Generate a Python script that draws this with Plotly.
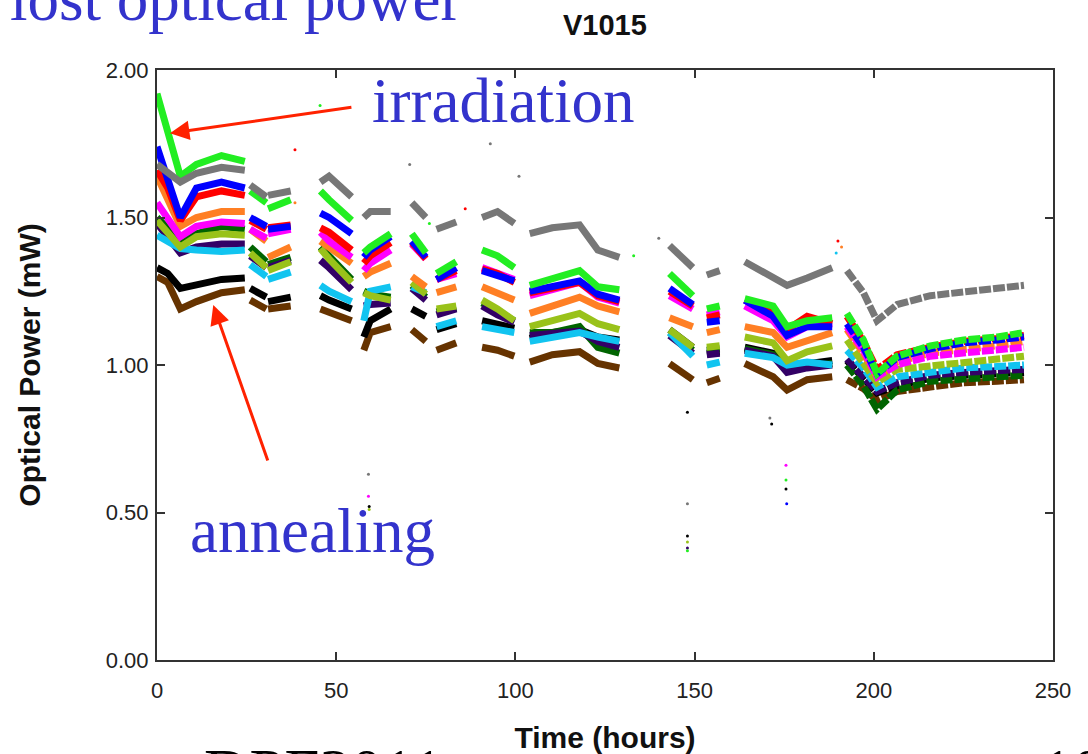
import plotly.graph_objects as go

# ---- time knots (hours) of each recorded segment ----
SEG_TIMES = [
    [0, 3, 6.5, 11, 18, 24.5],
    [26, 30.5],
    [31, 37.3],
    [45.6, 48, 54.3],
    [57.7, 59.5, 65.2],
    [71.1, 75.0],
    [78, 83.5],
    [90.7, 95, 99.7],
    [104, 110.3, 117.9, 123, 129],
    [143, 149.5],
    [153.4, 157],
    [164, 171.9, 175.8, 181.4, 188.4],
    [192.5, 197.1, 200.9, 206.5, 215.8, 225.1, 234.5, 241.9],
]

# ---- optical power (mW) per channel, one list per segment ----
brown = [[1.30, 1.28, 1.19, 1.215, 1.245, 1.255], [1.22, 1.19], [1.19, 1.20], [1.19, 1.18, 1.15],
         [1.05, 1.11, 1.13], [1.12, 1.08], [1.05, 1.075], [1.06, 1.05, 1.03],
         [1.01, 1.035, 1.045, 1.005, 0.99], [1.005, 0.95], [0.94, 0.955],
         [1.005, 0.96, 0.915, 0.95, 0.96], [0.95, 0.92, 0.88, 0.91, 0.925, 0.94, 0.945, 0.95]]
black = [[1.33, 1.31, 1.26, 1.27, 1.29, 1.295], [1.26, 1.23], [1.215, 1.23], [1.235, 1.22, 1.19],
         [1.095, 1.15, 1.19], [1.19, 1.165], [1.12, 1.14], [1.15, 1.14, 1.125],
         [1.09, 1.11, 1.12, 1.095, 1.085], [1.12, 1.06], [1.04, 1.045],
         [1.06, 1.04, 0.995, 1.005, 1.015], [1.015, 0.955, 0.905, 0.93, 0.955, 0.965, 0.97, 0.975]]
darkgreen = [[1.50, 1.46, 1.42, 1.445, 1.47, 1.46], [1.40, 1.35], [1.34, 1.365], [1.40, 1.37, 1.29],
             [1.25, 1.24, 1.23], [1.27, 1.23], [1.18, 1.195], [1.21, 1.18, 1.15],
             [1.11, 1.11, 1.13, 1.06, 1.04], [1.11, 1.05], [1.05, 1.055],
             [1.055, 1.035, 0.98, 0.995, 1.005], [1.00, 0.93, 0.85, 0.915, 0.945, 0.955, 0.96, 0.965]]
indigo = [[1.48, 1.43, 1.38, 1.40, 1.41, 1.41], [1.37, 1.33], [1.33, 1.355], [1.355, 1.33, 1.255],
          [1.20, 1.205, 1.21], [1.26, 1.22], [1.17, 1.19], [1.20, 1.17, 1.145],
          [1.10, 1.105, 1.115, 1.08, 1.06], [1.10, 1.04], [1.035, 1.04],
          [1.05, 1.03, 0.975, 0.99, 1.00], [1.02, 0.96, 0.91, 0.94, 0.965, 0.975, 0.98, 0.985]]
cyan = [[1.44, 1.42, 1.395, 1.39, 1.385, 1.39], [1.34, 1.30], [1.29, 1.315], [1.27, 1.25, 1.215],
        [1.15, 1.25, 1.265], [1.265, 1.245], [1.13, 1.15], [1.13, 1.12, 1.11],
        [1.08, 1.095, 1.11, 1.095, 1.08], [1.11, 1.03], [1.00, 1.01],
        [1.04, 1.025, 1.00, 1.01, 1.00], [1.05, 0.99, 0.925, 0.96, 0.975, 0.99, 0.995, 1.00]]
yellowgreen = [[1.49, 1.45, 1.40, 1.435, 1.445, 1.44], [1.38, 1.33], [1.32, 1.35], [1.395, 1.36, 1.28],
               [1.245, 1.235, 1.22], [1.28, 1.24], [1.19, 1.20], [1.22, 1.19, 1.15],
               [1.13, 1.15, 1.175, 1.14, 1.12], [1.12, 1.06], [1.06, 1.065],
               [1.095, 1.075, 1.015, 1.045, 1.065], [1.085, 1.01, 0.94, 0.985, 0.995, 1.01, 1.02, 1.03]]
orange = [[1.64, 1.56, 1.47, 1.50, 1.52, 1.52], [1.46, 1.42], [1.365, 1.40], [1.42, 1.40, 1.345],
          [1.30, 1.315, 1.345], [1.30, 1.265], [1.245, 1.265], [1.265, 1.245, 1.22],
          [1.175, 1.20, 1.23, 1.20, 1.18], [1.16, 1.13], [1.11, 1.12],
          [1.13, 1.11, 1.06, 1.08, 1.11], [1.12, 1.04, 0.96, 1.01, 1.04, 1.05, 1.065, 1.08]]
magenta = [[1.55, 1.50, 1.435, 1.47, 1.485, 1.48], [1.46, 1.43], [1.445, 1.46], [1.45, 1.42, 1.365],
           [1.32, 1.345, 1.39], [1.41, 1.36], [1.29, 1.31], [1.33, 1.31, 1.29],
           [1.235, 1.255, 1.28, 1.23, 1.21], [1.235, 1.19], [1.17, 1.18],
           [1.20, 1.15, 1.095, 1.13, 1.14], [1.13, 1.05, 0.96, 1.00, 1.03, 1.04, 1.05, 1.06]]
red = [[1.66, 1.60, 1.49, 1.57, 1.59, 1.575], [1.49, 1.46], [1.465, 1.475], [1.465, 1.45, 1.39],
       [1.345, 1.37, 1.415], [1.415, 1.36], [1.29, 1.32], [1.325, 1.31, 1.28],
       [1.245, 1.26, 1.28, 1.235, 1.215], [1.25, 1.20], [1.16, 1.17],
       [1.22, 1.175, 1.12, 1.165, 1.14], [1.165, 1.08, 0.985, 1.035, 1.06, 1.08, 1.09, 1.10]]
blue = [[1.74, 1.63, 1.50, 1.60, 1.62, 1.60], [1.50, 1.47], [1.46, 1.47], [1.515, 1.50, 1.445],
        [1.365, 1.39, 1.435], [1.42, 1.365], [1.29, 1.33], [1.32, 1.305, 1.285],
        [1.25, 1.265, 1.285, 1.24, 1.22], [1.26, 1.205], [1.145, 1.15],
        [1.22, 1.165, 1.10, 1.13, 1.13], [1.14, 1.06, 0.97, 1.025, 1.055, 1.075, 1.085, 1.095]]
green = [[1.92, 1.79, 1.64, 1.68, 1.71, 1.69], [1.59, 1.55], [1.53, 1.56], [1.59, 1.56, 1.49],
         [1.38, 1.40, 1.445], [1.445, 1.38], [1.31, 1.35], [1.39, 1.37, 1.33],
         [1.27, 1.295, 1.32, 1.265, 1.255], [1.31, 1.235], [1.19, 1.20],
         [1.225, 1.20, 1.13, 1.15, 1.16], [1.175, 1.085, 0.97, 1.03, 1.065, 1.085, 1.095, 1.11]]
gray = [[1.68, 1.65, 1.62, 1.65, 1.67, 1.66], [1.61, 1.57], [1.575, 1.59], [1.62, 1.64, 1.57],
        [1.50, 1.52, 1.52], [1.55, 1.50], [1.46, 1.485], [1.50, 1.52, 1.48],
        [1.445, 1.465, 1.475, 1.39, 1.365], [1.405, 1.33], [1.305, 1.32],
        [1.35, 1.30, 1.27, 1.295, 1.33], [1.32, 1.245, 1.15, 1.205, 1.235, 1.25, 1.26, 1.27]]

SERIES = [
    ("brown", brown, "#663300"),
    ("black", black, "#000000"),
    ("darkgreen", darkgreen, "#006400"),
    ("indigo", indigo, "#330066"),
    ("cyan", cyan, "#11c4f0"),
    ("yellowgreen", yellowgreen, "#99c21a"),
    ("orange", orange, "#ff7f24"),
    ("magenta", magenta, "#ff00ff"),
    ("red", red, "#ff0000"),
    ("blue", blue, "#0000ff"),
    ("green", green, "#22ee22"),
    ("gray", gray, "#777777"),
]

# ---- isolated outlier readings ----
OUT_T = [59, 59, 59.2, 59.2, 148, 148, 148, 148, 148, 148, 171, 171.5, 175.5, 175.5, 175.5, 175.7,
         45.5, 38.5, 38.5, 93, 76, 70.5, 86, 101, 140, 133, 190, 191, 189.5]
OUT_V = [0.63, 0.555, 0.52, 0.51, 0.53, 0.42, 0.40, 0.38, 0.37, 0.84, 0.82, 0.80, 0.66, 0.61, 0.58, 0.53,
         1.88, 1.73, 1.55, 1.75, 1.48, 1.68, 1.53, 1.64, 1.43, 1.37, 1.42, 1.40, 1.38]
OUT_C = ["#777777", "#ff00ff", "#000000", "#99c21a", "#777777", "#000000", "#99c21a", "#330066",
         "#22ee22", "#000000", "#777777", "#000000", "#ff00ff", "#22ee22", "#000000", "#0000ff",
         "#22ee22", "#ff0000", "#ff7f24", "#777777", "#22ee22", "#777777", "#ff0000", "#777777",
         "#777777", "#22ee22", "#ff0000", "#ff7f24", "#11c4f0"]

fig = go.Figure()
n_seg = len(SEG_TIMES)
for name, segs, color in SERIES:
    # earlier runs: continuous bands
    xs, ys = [], []
    for t, v in zip(SEG_TIMES[:n_seg - 1], segs[:n_seg - 1]):
        xs += list(t) + [None]
        ys += list(v) + [None]
    fig.add_trace(go.Scatter(x=xs, y=ys, mode="lines", name=name,
                             line=dict(color=color, width=7), connectgaps=False,
                             showlegend=False, hoverinfo="skip"))
    # last (annealing) run: periodic readings -> broken band
    fig.add_trace(go.Scatter(x=SEG_TIMES[-1], y=segs[-1], mode="lines", name=name,
                             line=dict(color=color, width=7, dash="12px,2px"),
                             showlegend=False, hoverinfo="skip"))

fig.add_trace(go.Scatter(x=OUT_T, y=OUT_V, mode="markers",
                         marker=dict(color=OUT_C, size=3), showlegend=False, hoverinfo="skip"))

sans = "Liberation Sans, Arial, sans-serif"
axis_common = dict(showline=True, linecolor="#333333", linewidth=2, mirror="ticks",
                   ticks="inside", ticklen=8, tickwidth=1.5, tickcolor="#333333",
                   showgrid=False, zeroline=False, automargin=False,
                   tickfont=dict(family=sans, size=22, color="#222222"))

fig.update_xaxes(range=[0, 250], dtick=50, tick0=0, ticklabelstandoff=10,
                 title=dict(text="<b>Time (hours)</b>", standoff=26,
                            font=dict(family=sans, size=30, color="#111111")),
                 **axis_common)
fig.update_yaxes(range=[0, 2], dtick=0.5, tick0=0, tickformat=".2f", ticklabelstandoff=2,
                 title=dict(text="<b>Optical Power (mW)</b>", standoff=56,
                            font=dict(family=sans, size=30, color="#111111")),
                 **axis_common)

serif = "Liberation Serif, Times New Roman, serif"
blue_txt = "#3333cc"
annotations = [
    dict(text="<b>V1015</b>", x=0.5, y=1.076, xref="paper", yref="paper", showarrow=False,
         xanchor="center", yanchor="middle",
         font=dict(family=sans, size=29, color="#111111")),
    dict(text="lost optical power", x=-0.166, y=1.12, xref="paper", yref="paper", xanchor="left",
         yanchor="middle", showarrow=False, font=dict(family=serif, size=63, color=blue_txt)),
    dict(text="irradiation", x=0.2377, y=0.947, xref="paper", yref="paper", xanchor="left",
         yanchor="middle", showarrow=False, font=dict(family=serif, size=63, color=blue_txt)),
    dict(text="annealing", x=0.0346, y=0.219, xref="paper", yref="paper", xanchor="left",
         yanchor="middle", showarrow=False, font=dict(family=serif, size=63, color=blue_txt)),
    dict(text="DPF2011", x=0.05, y=-0.19, xref="paper", yref="paper", xanchor="left",
         yanchor="middle", showarrow=False, font=dict(family=serif, size=63, color="#000000")),
    dict(text="10", x=0.984, y=-0.19, xref="paper", yref="paper", xanchor="left",
         yanchor="middle", showarrow=False, font=dict(family=serif, size=63, color="#000000")),
    # arrows
    dict(x=3.6, y=1.786, xref="x", yref="y", ax=183, ay=-26, axref="pixel", ayref="pixel",
         text="", showarrow=True, arrowhead=2, arrowsize=1.3, arrowwidth=3, arrowcolor="#ff2200"),
    dict(x=15.7, y=1.203, xref="x", yref="y", ax=55, ay=157, axref="pixel", ayref="pixel",
         text="", showarrow=True, arrowhead=2, arrowsize=1.3, arrowwidth=3, arrowcolor="#ff2200"),
]

fig.update_layout(width=1088, height=754, margin=dict(l=157, r=35, t=70, b=94),
                  paper_bgcolor="white", plot_bgcolor="white", annotations=annotations)

fig.write_html("out.html")
